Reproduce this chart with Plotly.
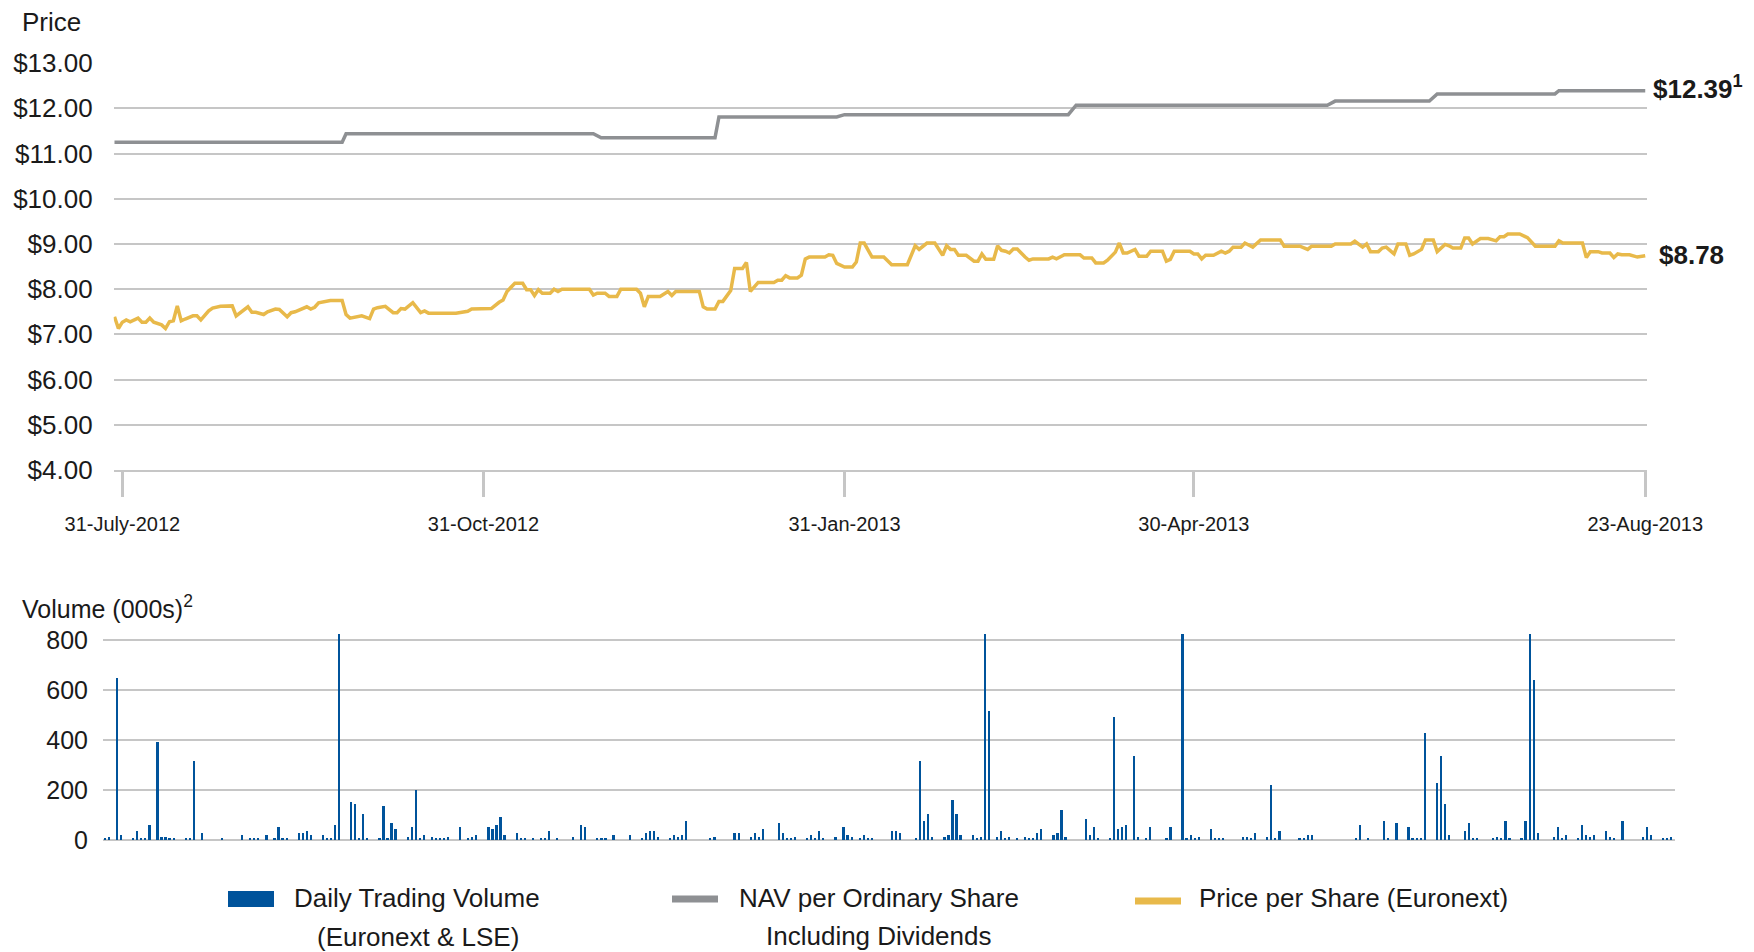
import plotly.graph_objects as go

W, H = 1754, 952

# price per share (Euronext)
price_dates = [
    "2012-07-29", "2012-07-30", "2012-07-31", "2012-08-01", "2012-08-02", "2012-08-03", "2012-08-04", "2012-08-05",
    "2012-08-06", "2012-08-07", "2012-08-08", "2012-08-10", "2012-08-11", "2012-08-12", "2012-08-13", "2012-08-14",
    "2012-08-15", "2012-08-16", "2012-08-18", "2012-08-19", "2012-08-20", "2012-08-22", "2012-08-23", "2012-08-25",
    "2012-08-28", "2012-08-29",
    "2012-09-01", "2012-09-02", "2012-09-03", "2012-09-05", "2012-09-06", "2012-09-08", "2012-09-09", "2012-09-11",
    "2012-09-12", "2012-09-13", "2012-09-16", "2012-09-17", "2012-09-18", "2012-09-19", "2012-09-22", "2012-09-25",
    "2012-09-26", "2012-09-27", "2012-09-30",
    "2012-10-02", "2012-10-03", "2012-10-04", "2012-10-06", "2012-10-08", "2012-10-09", "2012-10-10", "2012-10-11",
    "2012-10-13", "2012-10-15", "2012-10-16", "2012-10-17", "2012-10-24", "2012-10-27", "2012-10-28",
    "2012-11-02", "2012-11-04", "2012-11-05", "2012-11-06", "2012-11-08", "2012-11-10", "2012-11-11", "2012-11-12",
    "2012-11-13", "2012-11-14", "2012-11-15", "2012-11-17", "2012-11-18", "2012-11-19", "2012-11-20", "2012-11-27",
    "2012-11-28", "2012-11-29",
    "2012-12-01", "2012-12-02", "2012-12-04", "2012-12-05", "2012-12-09", "2012-12-10", "2012-12-11", "2012-12-12",
    "2012-12-15", "2012-12-17", "2012-12-18", "2012-12-19", "2012-12-25", "2012-12-26", "2012-12-27", "2012-12-29",
    "2012-12-30", "2012-12-31",
    "2013-01-02", "2013-01-03", "2013-01-05", "2013-01-06", "2013-01-07", "2013-01-09", "2013-01-13", "2013-01-14",
    "2013-01-15", "2013-01-16", "2013-01-17", "2013-01-19", "2013-01-20", "2013-01-21", "2013-01-22", "2013-01-26",
    "2013-01-27", "2013-01-28", "2013-01-29", "2013-01-31",
    "2013-02-02", "2013-02-03", "2013-02-04", "2013-02-05", "2013-02-07", "2013-02-10", "2013-02-12", "2013-02-16",
    "2013-02-18", "2013-02-19", "2013-02-21", "2013-02-23", "2013-02-25", "2013-02-26", "2013-02-27", "2013-02-28",
    "2013-03-01", "2013-03-03", "2013-03-05", "2013-03-06", "2013-03-07", "2013-03-08", "2013-03-10", "2013-03-11",
    "2013-03-12", "2013-03-13", "2013-03-14", "2013-03-15", "2013-03-16", "2013-03-18", "2013-03-19", "2013-03-20",
    "2013-03-24", "2013-03-25", "2013-03-26", "2013-03-28",
    "2013-04-01", "2013-04-02", "2013-04-04", "2013-04-05", "2013-04-07", "2013-04-08", "2013-04-10", "2013-04-11",
    "2013-04-12", "2013-04-13", "2013-04-15", "2013-04-16", "2013-04-18", "2013-04-19", "2013-04-22", "2013-04-23",
    "2013-04-24", "2013-04-25", "2013-04-29", "2013-04-30",
    "2013-05-01", "2013-05-02", "2013-05-03", "2013-05-05", "2013-05-07", "2013-05-08", "2013-05-09", "2013-05-10",
    "2013-05-12", "2013-05-13", "2013-05-15", "2013-05-17", "2013-05-22", "2013-05-23", "2013-05-27", "2013-05-29",
    "2013-05-30",
    "2013-06-04", "2013-06-05", "2013-06-09", "2013-06-10", "2013-06-12", "2013-06-13", "2013-06-14", "2013-06-16",
    "2013-06-17", "2013-06-18", "2013-06-20", "2013-06-21", "2013-06-23", "2013-06-24", "2013-06-25", "2013-06-27",
    "2013-06-28", "2013-06-30",
    "2013-07-01", "2013-07-03", "2013-07-04", "2013-07-05", "2013-07-07", "2013-07-08", "2013-07-09", "2013-07-10",
    "2013-07-12", "2013-07-14", "2013-07-16", "2013-07-17", "2013-07-18", "2013-07-19", "2013-07-22", "2013-07-24",
    "2013-07-26", "2013-07-31",
    "2013-08-01", "2013-08-02", "2013-08-07", "2013-08-08", "2013-08-09", "2013-08-11", "2013-08-12", "2013-08-14",
    "2013-08-15", "2013-08-16", "2013-08-17", "2013-08-19", "2013-08-21", "2013-08-23",
]
price_values = [
    7.39, 7.13, 7.27, 7.32, 7.28, 7.33, 7.36, 7.27,
    7.27, 7.36, 7.27, 7.21, 7.13, 7.28, 7.30, 7.63,
    7.30, 7.34, 7.41, 7.41, 7.32, 7.52, 7.58, 7.62,
    7.63, 7.41,
    7.61, 7.49, 7.49, 7.44, 7.50, 7.56, 7.55, 7.39,
    7.48, 7.50, 7.61, 7.56, 7.60, 7.70, 7.75, 7.75,
    7.44, 7.36, 7.41,
    7.35, 7.56, 7.59, 7.62, 7.48, 7.48, 7.57, 7.56,
    7.70, 7.48, 7.52, 7.47, 7.47, 7.51, 7.56,
    7.57, 7.71, 7.76, 7.95, 8.13, 8.13, 7.99, 7.99,
    7.86, 7.99, 7.91, 7.91, 8.00, 7.95, 8.00, 8.00,
    7.87, 7.91,
    7.91, 7.84, 7.84, 8.00, 8.00, 7.91, 7.61, 7.84,
    7.84, 7.95, 7.86, 7.95, 7.95, 7.61, 7.56, 7.56,
    7.73, 7.73,
    7.97, 8.46, 8.46, 8.59, 7.95, 8.15, 8.15, 8.20,
    8.20, 8.30, 8.25, 8.25, 8.31, 8.67, 8.71, 8.71,
    8.76, 8.75, 8.57, 8.49,
    8.49, 8.60, 9.02, 9.02, 8.71, 8.71, 8.54, 8.54,
    8.96, 8.88, 9.02, 9.02, 8.75, 8.96, 8.88, 8.88,
    8.75, 8.75, 8.62, 8.62, 8.78, 8.66, 8.66, 8.96,
    8.86, 8.84, 8.80, 8.89, 8.89, 8.71, 8.64, 8.67,
    8.67, 8.71, 8.67, 8.76,
    8.76, 8.69, 8.69, 8.58, 8.58, 8.64, 8.82, 9.02,
    8.80, 8.80, 8.88, 8.73, 8.73, 8.84, 8.84, 8.62,
    8.66, 8.84, 8.84, 8.78,
    8.78, 8.67, 8.75, 8.75, 8.84, 8.80, 8.84, 8.93,
    8.93, 9.02, 8.93, 9.09, 9.09, 8.95, 8.95, 8.88,
    8.95,
    8.95, 9.00, 9.00, 9.06, 8.93, 9.00, 8.83, 8.83,
    8.91, 8.93, 8.78, 9.00, 9.00, 8.75, 8.78, 8.88,
    9.09, 9.09,
    8.83, 8.99, 8.96, 8.91, 8.91, 9.13, 9.13, 9.00,
    9.12, 9.12, 9.07, 9.16, 9.16, 9.22, 9.22, 9.14,
    8.95, 8.95,
    9.07, 9.02, 9.02, 8.70, 8.83, 8.83, 8.80, 8.80,
    8.70, 8.78, 8.76, 8.76, 8.71, 8.74,
]

# NAV per ordinary share incl. dividends (grey step line)
nav_dates = ["2012-07-29", "2012-09-25", "2012-09-26", "2012-11-28", "2012-11-30", "2012-12-29",
             "2012-12-30", "2013-01-29", "2013-01-31", "2013-03-29", "2013-03-31", "2013-06-03",
             "2013-06-05", "2013-06-29", "2013-07-01", "2013-07-31", "2013-08-01", "2013-08-23"]
nav_values = [11.25, 11.25, 11.44, 11.44, 11.35, 11.35,
              11.81, 11.81, 11.86, 11.86, 12.07, 12.07,
              12.16, 12.16, 12.32, 12.32, 12.39, 12.39]

# daily trading volume in 000s (bars above 800 run off the top of the panel)
vol_dates = [
    "2012-07-31", "2012-08-01", "2012-08-03", "2012-08-04", "2012-08-07", "2012-08-08", "2012-08-09", "2012-08-10",
    "2012-08-11", "2012-08-13", "2012-08-14", "2012-08-15", "2012-08-16", "2012-08-17", "2012-08-20", "2012-08-21",
    "2012-08-22", "2012-08-24", "2012-08-29",
    "2012-09-03", "2012-09-05", "2012-09-06", "2012-09-07", "2012-09-09", "2012-09-11", "2012-09-12", "2012-09-13",
    "2012-09-14", "2012-09-17", "2012-09-18", "2012-09-19", "2012-09-20", "2012-09-23", "2012-09-24", "2012-09-25",
    "2012-09-26", "2012-09-27", "2012-09-30",
    "2012-10-01", "2012-10-02", "2012-10-03", "2012-10-04", "2012-10-07", "2012-10-08", "2012-10-09", "2012-10-10",
    "2012-10-11", "2012-10-14", "2012-10-15", "2012-10-16", "2012-10-17", "2012-10-18", "2012-10-20", "2012-10-21",
    "2012-10-22", "2012-10-23", "2012-10-24", "2012-10-27", "2012-10-29", "2012-10-30", "2012-10-31",
    "2012-11-03", "2012-11-04", "2012-11-05", "2012-11-06", "2012-11-07", "2012-11-10", "2012-11-11", "2012-11-12",
    "2012-11-14", "2012-11-16", "2012-11-17", "2012-11-18", "2012-11-20", "2012-11-24", "2012-11-26", "2012-11-27",
    "2012-11-30",
    "2012-12-01", "2012-12-02", "2012-12-04", "2012-12-08", "2012-12-11", "2012-12-12", "2012-12-13", "2012-12-14",
    "2012-12-15", "2012-12-18", "2012-12-19", "2012-12-20", "2012-12-21", "2012-12-22", "2012-12-28", "2012-12-29",
    "2013-01-03", "2013-01-04", "2013-01-07", "2013-01-08", "2013-01-09", "2013-01-10", "2013-01-14", "2013-01-15",
    "2013-01-16", "2013-01-17", "2013-01-18", "2013-01-21", "2013-01-22", "2013-01-23", "2013-01-24", "2013-01-25",
    "2013-01-28", "2013-01-30", "2013-01-31",
    "2013-02-01", "2013-02-03", "2013-02-04", "2013-02-05", "2013-02-06", "2013-02-11", "2013-02-12", "2013-02-13",
    "2013-02-17", "2013-02-18", "2013-02-19", "2013-02-20", "2013-02-21", "2013-02-24", "2013-02-25", "2013-02-26",
    "2013-02-27", "2013-02-28",
    "2013-03-03", "2013-03-04", "2013-03-05", "2013-03-06", "2013-03-07", "2013-03-09", "2013-03-10", "2013-03-11",
    "2013-03-12", "2013-03-14", "2013-03-16", "2013-03-17", "2013-03-18", "2013-03-19", "2013-03-20", "2013-03-23",
    "2013-03-24", "2013-03-25", "2013-03-26", "2013-03-31",
    "2013-04-01", "2013-04-02", "2013-04-03", "2013-04-06", "2013-04-07", "2013-04-08", "2013-04-09", "2013-04-10",
    "2013-04-12", "2013-04-13", "2013-04-15", "2013-04-16", "2013-04-20", "2013-04-21", "2013-04-24", "2013-04-25",
    "2013-04-26", "2013-04-27", "2013-04-28",
    "2013-05-01", "2013-05-02", "2013-05-03", "2013-05-04", "2013-05-09", "2013-05-10", "2013-05-11", "2013-05-12",
    "2013-05-15", "2013-05-16", "2013-05-17", "2013-05-18", "2013-05-23", "2013-05-24", "2013-05-25", "2013-05-26",
    "2013-06-06", "2013-06-07", "2013-06-09", "2013-06-13", "2013-06-14", "2013-06-16", "2013-06-19", "2013-06-20",
    "2013-06-21", "2013-06-22", "2013-06-23", "2013-06-26", "2013-06-27", "2013-06-28", "2013-06-29",
    "2013-07-03", "2013-07-04", "2013-07-05", "2013-07-06", "2013-07-10", "2013-07-11", "2013-07-12", "2013-07-13",
    "2013-07-14", "2013-07-17", "2013-07-18", "2013-07-19", "2013-07-20", "2013-07-21", "2013-07-25", "2013-07-26",
    "2013-07-27", "2013-07-28", "2013-07-31",
    "2013-08-01", "2013-08-02", "2013-08-03", "2013-08-04", "2013-08-07", "2013-08-08", "2013-08-09", "2013-08-11",
    "2013-08-16", "2013-08-17", "2013-08-18", "2013-08-21", "2013-08-22", "2013-08-23",
]
vol_values = [
    5, 12, 649, 20, 5, 36, 5, 5,
    60, 392, 12, 12, 5, 5, 5, 5,
    316, 28, 5,
    20, 5, 5, 5, 20, 5, 52, 5,
    5, 28, 28, 36, 20, 20, 5, 5,
    60, 900, 152,
    144, 5, 104, 5, 5, 136, 5, 68,
    44, 12, 52, 201, 5, 20, 12, 5,
    5, 5, 12, 52, 5, 12, 20,
    52, 44, 60, 92, 20, 28, 5, 5,
    5, 5, 5, 36, 5, 12, 60, 52,
    5,
    5, 5, 20, 20, 5, 28, 36, 36,
    12, 5, 20, 12, 20, 76, 5, 12,
    28, 28, 12, 28, 12, 44, 68, 28,
    5, 5, 12, 5, 20, 5, 36, 5,
    12, 52, 20,
    12, 5, 20, 5, 5, 36, 36, 28,
    5, 316, 76, 104, 12, 12, 20, 160,
    104, 20,
    20, 5, 12, 900, 516, 12, 36, 5,
    12, 5, 12, 5, 5, 28, 44, 20,
    28, 120, 12, 84,
    20, 52, 5, 5, 492, 44, 52, 60,
    336, 12, 5, 52, 5, 52, 900, 5,
    20, 5, 12,
    44, 5, 5, 5, 12, 12, 5, 28,
    12, 220, 5, 36, 5, 5, 20, 20,
    5, 60, 5, 76, 5, 68, 52, 5,
    5, 5, 428, 228, 336, 144, 20,
    36, 68, 5, 5, 5, 12, 5, 76,
    5, 5, 76, 900, 640, 28, 12, 52,
    5, 20, 5,
    60, 20, 12, 20, 36, 12, 5, 76,
    12, 52, 20, 5, 5, 12,
]

tick_dates = ["2012-07-31", "2012-10-31", "2013-01-31", "2013-04-30", "2013-08-23"]
tick_labels = ["31-July-2012", "31-Oct-2012", "31-Jan-2013", "30-Apr-2013", "23-Aug-2013"]
price_ticks = [4, 5, 6, 7, 8, 9, 10, 11, 12, 13]
price_labels = ["$4.00", "$5.00", "$6.00", "$7.00", "$8.00", "$9.00", "$10.00", "$11.00", "$12.00", "$13.00"]
vol_ticks = [0, 200, 400, 600, 800]

FONT = "Liberation Sans, Arial, sans-serif"
INK = "#1a1a1a"
GRID = "#c6c6c6"
BLUE = "#00539B"
GREY = "#8E9093"
GOLD = "#E8B94A"


def px(x):
    return x / W


def py(y):
    return 1 - y / H


fig = go.Figure()
fig.add_trace(go.Bar(x=vol_dates, y=vol_values, marker_color=BLUE, marker_line_width=0,
                     width=0.55 * 86400000, xaxis="x2", yaxis="y2", name="Daily Trading Volume"))
fig.add_trace(go.Scatter(x=nav_dates, y=nav_values, mode="lines", line=dict(color=GREY, width=3.5),
                         name="NAV per Ordinary Share"))
fig.add_trace(go.Scatter(x=price_dates, y=price_values, mode="lines", line=dict(color=GOLD, width=3.5),
                         name="Price per Share (Euronext)"))

fig.update_layout(
    width=W, height=H, margin=dict(l=0, r=0, t=0, b=0, pad=0), autosize=False,
    paper_bgcolor="white", plot_bgcolor="white",
    showlegend=False, bargap=0,
    font=dict(family=FONT, color=INK),
    xaxis=dict(type="date", domain=[px(113.7), px(1647.2)], anchor="y", automargin=False,
               range=["2012-07-28 19:12", "2013-08-23 12:00"],
               tickvals=tick_dates, ticktext=tick_labels, tickfont=dict(size=20),
               ticks="outside", ticklen=25, tickwidth=3, tickcolor=GRID,
               ticklabelstandoff=10,
               showline=True, linecolor=GRID, linewidth=2, showgrid=False, zeroline=False),
    yaxis=dict(domain=[py(470), py(62.7)], anchor="x", range=[4, 13.01], automargin=False,
               tickvals=price_ticks, ticktext=price_labels, tickfont=dict(size=26),
               ticklabelstandoff=20,
               showgrid=True, gridcolor=GRID, gridwidth=2, zeroline=False, showline=False),
    xaxis2=dict(type="date", domain=[px(103), px(1674.5)], anchor="y2", automargin=False,
                range=["2012-07-30 12:00", "2013-08-23 21:36"],
                showticklabels=False, ticks="", showgrid=False, zeroline=False, showline=False),
    yaxis2=dict(domain=[py(840), py(634)], anchor="x2", range=[0, 824], automargin=False,
                tickvals=vol_ticks, tickfont=dict(size=25), ticklabelstandoff=14,
                showgrid=True, gridcolor=GRID, gridwidth=2,
                zeroline=True, zerolinecolor=GRID, zerolinewidth=2, showline=False),
)

notes = [
    ("Price", 20, 22, "left", 26, False),
    ("Volume (000s)<sup>2</sup>", 20, 607, "left", 25, False),
    ("$12.39<sup>1</sup>", 1651, 87, "left", 26, True),
    ("$8.78", 1657, 255, "left", 26, True),
    ("Daily Trading Volume", 417, 898, "center", 26, False),
    ("(Euronext & LSE)", 418, 937, "center", 26, False),
    ("NAV per Ordinary Share", 879, 898, "center", 26, False),
    ("Including Dividends", 879, 936, "center", 26, False),
    ("Price per Share (Euronext)", 1353, 898, "center", 26, False),
]
for text, x, y, anchor, size, bold in notes:
    fig.add_annotation(text=f"<b>{text}</b>" if bold else text, xref="paper", yref="paper",
                       x=px(x), y=py(y), xanchor=anchor, yanchor="middle", showarrow=False,
                       font=dict(size=size, family=FONT, color=INK))

# legend keys
fig.add_shape(type="rect", xref="paper", yref="paper", x0=px(228), x1=px(274), y0=py(907), y1=py(891),
              fillcolor=BLUE, line_width=0)
fig.add_shape(type="line", xref="paper", yref="paper", x0=px(672), x1=px(718), y0=py(899), y1=py(899),
              line=dict(color=GREY, width=7))
fig.add_shape(type="line", xref="paper", yref="paper", x0=px(1135), x1=px(1181), y0=py(901), y1=py(901),
              line=dict(color=GOLD, width=7))

fig.write_html("out.html", config={"displayModeBar": False},
               post_script="document.body.style.margin='0';")
